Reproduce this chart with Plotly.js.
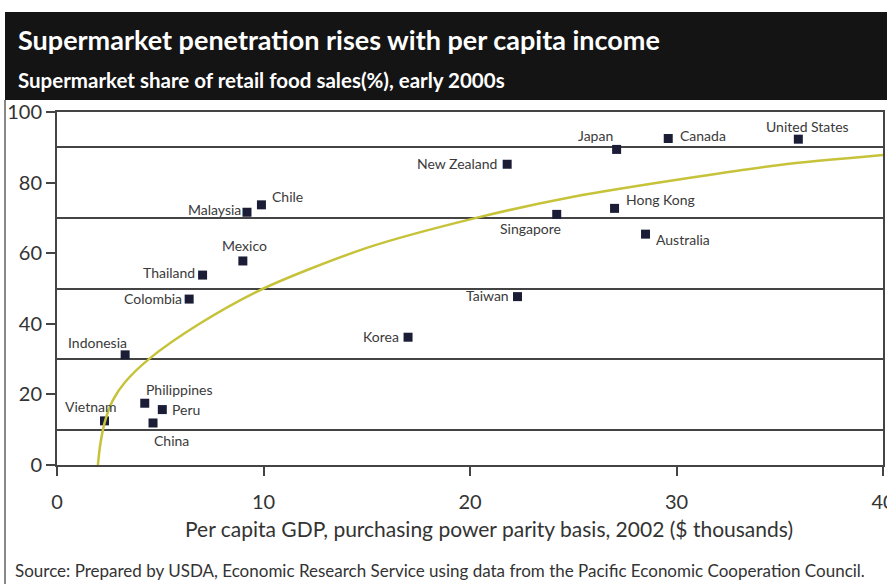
<!DOCTYPE html>
<html>
<head>
<meta charset="utf-8">
<script src="https://cdn.plot.ly/plotly-3.0.1.min.js"></script>
<style>html,body{margin:0;padding:0;background:#fff;}#chart{width:887px;height:584px;}</style>
</head>
<body>
<div id="chart"></div>
<script>
// Data
const countries = ["United States","Canada","Japan","New Zealand","Hong Kong","Singapore","Australia","Taiwan","Korea","Chile","Malaysia","Mexico","Thailand","Colombia","Indonesia","Philippines","Peru","China","Vietnam"];
const gdp = [35.9, 29.6, 27.1, 21.8, 27.0, 24.2, 28.5, 22.3, 17.0, 9.9, 9.2, 9.0, 7.05, 6.4, 3.3, 4.25, 5.1, 4.65, 2.3];
const share = [92.3, 92.5, 89.4, 85.2, 72.7, 71.0, 65.4, 47.7, 36.2, 73.7, 71.6, 57.8, 53.8, 47.0, 31.2, 17.5, 15.7, 11.9, 12.5];
// Trend curve
const trendX = [1.98, 2.1, 2.33, 2.72, 3.3, 4.45, 6.9, 10, 15, 20.3, 25, 30.9, 35, 40];
const trendY = [0, 6, 12.5, 18.5, 23.5, 30, 40, 50, 61.5, 70, 76, 81.6, 85, 87.8];
const xTicks = [0, 10, 20, 30, 40];
const yTicks = [0, 20, 40, 60, 80, 100];
const bandLines = [10, 30, 50, 70, 90];

// label placement (pixels relative to marker)
const labelPos = {
  "United States": ["center", 9, 13],
  "Canada": ["left", 10, 3],
  "Japan": ["right", -2, 14],
  "New Zealand": ["right", -8, 1],
  "Hong Kong": ["left", 9, 9],
  "Singapore": ["right", 6, -14],
  "Australia": ["left", 8, -5],
  "Taiwan": ["right", -7, 1],
  "Korea": ["right", -7, 1],
  "Chile": ["left", 9, 8],
  "Malaysia": ["right", -4, 3],
  "Mexico": ["center", 2, 15],
  "Thailand": ["right", -6, 3],
  "Colombia": ["right", -5, 1],
  "Indonesia": ["right", 4, 12],
  "Philippines": ["left", -1, 14],
  "Peru": ["left", 8, 0],
  "China": ["left", -1, -18],
  "Vietnam": ["right", 15, 14]
};

const FONT = "Lato, 'Open Sans', sans-serif";

const traces = [
  {
    x: trendX, y: trendY, type: "scatter", mode: "lines",
    line: {color: "#c6c33a", width: 2.5, shape: "spline", smoothing: 0.8},
    yaxis: "y2", hoverinfo: "skip"
  },
  {
    x: gdp, y: share, type: "scatter", mode: "markers",
    marker: {symbol: "square", size: 9, color: "#1b1d36"},
    text: countries, hoverinfo: "text"
  }
];

const annotations = countries.map((c, i) => {
  const p = labelPos[c];
  return {
    x: gdp[i], y: share[i], xref: "x", yref: "y",
    text: c, showarrow: false,
    xanchor: p[0], yanchor: "middle", xshift: p[1], yshift: p[2],
    font: {family: FONT, size: 14, color: "#3a3a3a"}
  };
});

annotations.push(
  {xref: "paper", yref: "paper", x: -0.05, y: (465 - 40) / 353, xanchor: "left", yanchor: "middle",
   text: "<b>Supermarket penetration rises with per capita income</b>", showarrow: false,
   font: {family: FONT, size: 27, color: "#ffffff"}},
  {xref: "paper", yref: "paper", x: -0.05, y: (465 - 80) / 353, xanchor: "left", yanchor: "middle",
   text: "<b>Supermarket share of retail food sales(%), early 2000s</b>", showarrow: false,
   font: {family: FONT, size: 20.5, color: "#ffffff"}},
  {xref: "paper", yref: "paper", x: (489 - 57) / 826, y: (465 - 528) / 353, xanchor: "center", yanchor: "middle",
   text: "Per capita GDP, purchasing power parity basis, 2002 ($ thousands)", showarrow: false,
   font: {family: FONT, size: 21, color: "#333"}},
  {xref: "paper", yref: "paper", x: (13 - 57) / 826, y: (465 - 570) / 353, xanchor: "left", yanchor: "middle",
   text: "Source: Prepared by USDA, Economic Research Service using data from the Pacific Economic Cooperation Council.", showarrow: false,
   font: {family: FONT, size: 17, color: "#333"}}
);

const shapes = [
  {type: "rect", xref: "paper", yref: "paper", x0: (5 - 57) / 826, x1: (890 - 57) / 826,
   y0: (465 - 100) / 353, y1: (465 - 12) / 353, fillcolor: "#141414", line: {width: 0}, layer: "below"},
  {type: "line", xref: "paper", yref: "paper", x0: (5 - 57) / 826, x1: (5 - 57) / 826,
   y0: (465 - 100) / 353, y1: (465 - 590) / 353, line: {color: "#888", width: 2}}
];

const layout = {
  width: 887, height: 584,
  margin: {l: 57, r: 4, t: 112, b: 119, pad: 0},
  paper_bgcolor: "#ffffff", plot_bgcolor: "#ffffff",
  showlegend: false, hovermode: false,
  font: {family: FONT, color: "#333"},
  xaxis: {
    range: [0, 40], tickvals: xTicks, ticktext: xTicks.map(String),
    ticks: "outside", ticklen: 9, tickwidth: 2, tickcolor: "#444",
    showline: true, linecolor: "#444", linewidth: 2, mirror: true,
    showgrid: false, zeroline: false, ticklabeloverflow: "allow",
    tickfont: {family: FONT, size: 20, color: "#333"}, ticklabelstandoff: 9
  },
  yaxis: {
    range: [0, 100], tickvals: bandLines, showticklabels: false, ticks: "",
    showgrid: true, gridcolor: "#444", gridwidth: 2,
    showline: true, linecolor: "#444", linewidth: 2, mirror: true, zeroline: false
  },
  yaxis2: {
    range: [0, 100], overlaying: "y", side: "left", tickvals: yTicks, ticktext: yTicks.map(String),
    ticks: "outside", ticklen: 10, tickwidth: 2, tickcolor: "#444",
    showgrid: false, showline: false, zeroline: false,
    tickfont: {family: FONT, size: 20, color: "#333"}
  },
  annotations: annotations,
  shapes: shapes
};

Plotly.newPlot("chart", traces, layout, {displayModeBar: false, staticPlot: true});
</script>
</body>
</html>
